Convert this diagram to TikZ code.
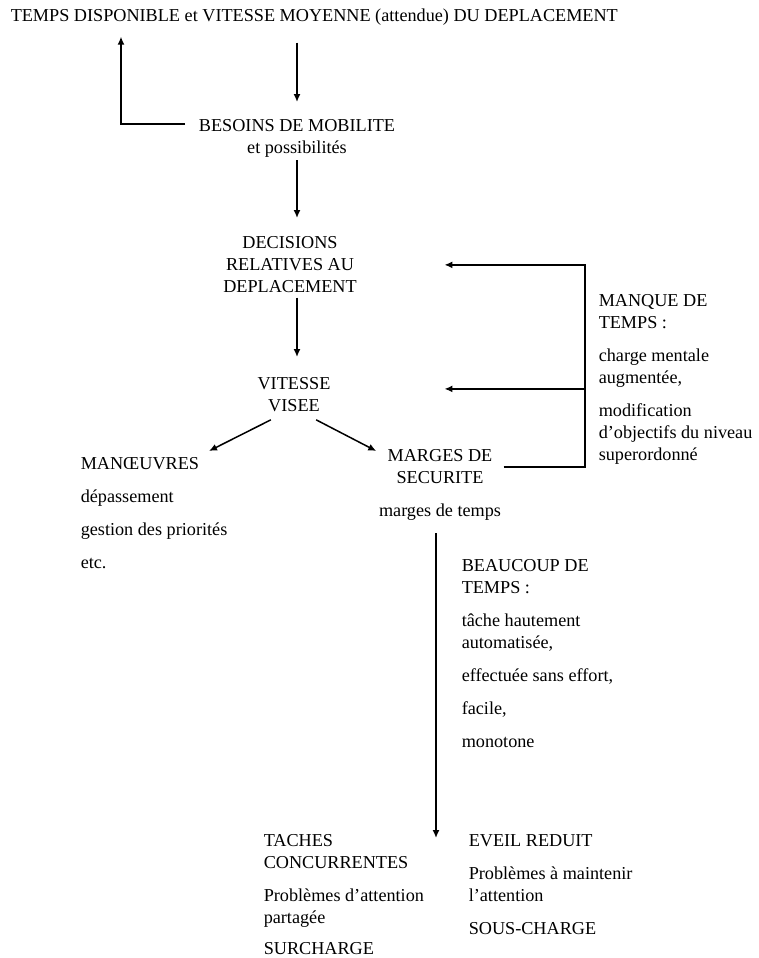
\documentclass[tikz,border=0pt]{standalone}
\usepackage{fontspec}
\setmainfont{Liberation Serif}
\usetikzlibrary{arrows.meta}

\begin{document}
\begin{tikzpicture}[x=1pt, y=-1pt, line width=1.5pt,
    lbl/.style = {inner sep=0pt, font=\fontsize{18.2}{22}\selectfont},
    arr/.style = {-{Latex[length=8pt,width=7pt]}}]
  \useasboundingbox[fill=white] (0,0) rectangle (758,958);
  \node[lbl, anchor=base west] (title) at (10,22) {TEMPS DISPONIBLE et VITESSE MOYENNE (attendue) DU DEPLACEMENT};
  \node[lbl, anchor=north, align=center] (besoins) at (297,119) {BESOINS DE MOBILITE\\et possibilités};
  \node[lbl, anchor=north, align=center] (decisions) at (290,236) {DECISIONS\\RELATIVES AU\\DEPLACEMENT};
  \node[lbl, anchor=north, align=center] (vitesse) at (294,377) {VITESSE\\VISEE};
  \node[lbl, anchor=north west, align=left] (manoeuvres) at (80,457) {MANŒUVRES\\[11pt]dépassement\\[11pt]gestion des priorités\\[11pt]etc.};
  \node[lbl, anchor=north, align=center] (marges) at (440,449) {MARGES DE\\SECURITE\\[11pt]marges de temps};
  \node[lbl, anchor=north west, align=left] (manque) at (598,294) {MANQUE DE\\TEMPS :\\[11pt]charge mentale\\augmentée,\\[11pt]modification\\d’objectifs du niveau\\superordonné};
  \node[lbl, anchor=north west, align=left] (beaucoup) at (461,559) {BEAUCOUP DE\\TEMPS :\\[11pt]tâche hautement\\automatisée,\\[11pt]effectuée sans effort,\\[11pt]facile,\\[11pt]monotone};
  \node[lbl, anchor=north west, align=left] (taches) at (263,834) {TACHES\\CONCURRENTES\\[11pt]Problèmes d’attention\\partagée\\[9pt]SURCHARGE};
  \node[lbl, anchor=north west, align=left] (eveil) at (468,834) {EVEIL REDUIT\\[11pt]Problèmes à maintenir\\l’attention\\[11pt]SOUS-CHARGE};

  % retour vers le temps disponible
  \draw[arr] ([shift={(-13pt,-5pt)}]besoins.north west) -| ([shift={(111pt,-10pt)}]title.south west);
  \draw[arr] ([yshift=-16pt]title.south -| besoins.north) -- ([yshift=17pt]besoins.north);
  \draw[arr] ([yshift=-2pt]besoins.south) -- ([yshift=18pt]besoins.south |- decisions.north);
  \draw[arr] ([yshift=-4pt]besoins.south |- decisions.south) -- ([yshift=20pt]besoins.south |- vitesse.north);
  \draw[arr] ([shift={(14pt,-7pt)}]vitesse.south west) -- ([shift={(129pt,6pt)}]manoeuvres.north west);
  \draw[arr] ([shift={(-15pt,-7pt)}]vitesse.south east) -- ([shift={(-2pt,-2pt)}]marges.north west);

  % manque de temps
  \coordinate (knee) at ([xshift=-13pt]manque.west |- decisions.east);
  \coordinate (tip) at ([xshift=87pt]decisions.east);
  \draw[arr] ([shift={(2pt,-18pt)}]marges.north east) -| (knee) -- (tip);
  \draw[arr] ([yshift=6pt]knee |- vitesse.east) -- ([yshift=6pt]tip |- vitesse.east);

  % beaucoup de temps
  \coordinate (mg) at ([shift={(-4pt,-12pt)}]marges.south);
  \draw[arr] (mg) -- ([yshift=-4pt]mg |- eveil.north);
\end{tikzpicture}
\end{document}
